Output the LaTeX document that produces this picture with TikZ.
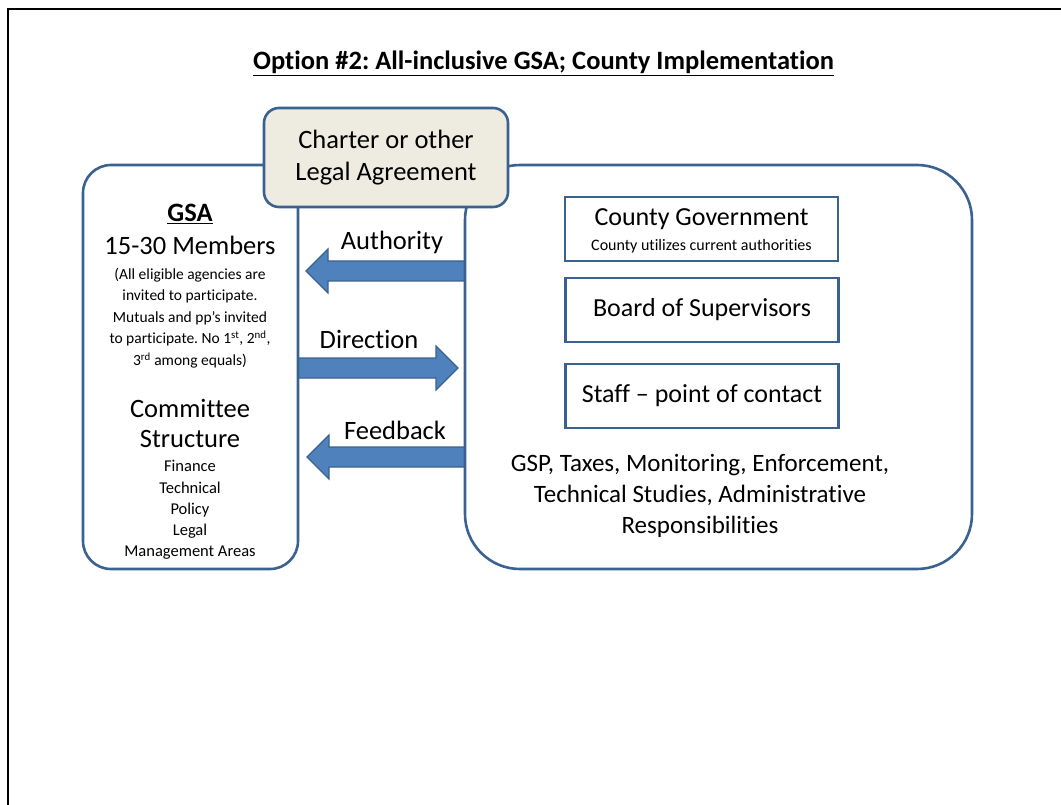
\documentclass[tikz,border=0pt]{standalone}
\usepackage{fontspec}
\setmainfont{Carlito}[Ligatures=NoCommon]
\frenchspacing
\definecolor{edgeblue}{HTML}{3A6291}
\definecolor{arrowfill}{HTML}{4F81BD}
\definecolor{charterfill}{HTML}{EEECE1}
\tikzset{
  panel/.style={draw=edgeblue, line width=2.6pt, inner sep=0pt},
  unitbox/.style={draw=edgeblue, line width=2.6pt, inner sep=0pt, minimum width=273pt, minimum height=64pt,
     font=\fontsize{26}{30}\selectfont},
  blockarrow/.style={draw=edgeblue, fill=arrowfill, line width=1.2pt, line join=miter},
  lbl/.style={inner sep=0pt, align=center},
  big/.style={font=\fontsize{26.5}{30}\selectfont},
}
\begin{document}
\begin{tikzpicture}[x=1pt,y=-1pt]
\useasboundingbox (0,0) rectangle (1061,805);
\draw[line width=2pt] (7.5,805) -- (7.5,9) -- (1061,9);

\node[lbl, font=\fontsize{26.5}{30}\selectfont\bfseries] (title) at (543.5,63) {\underline{Option \#2: All-inclusive GSA; County Implementation}};

% block arrows (drawn under the panel borders)
\draw[blockarrow] (465,261) -- (328,261) -- (328,249) -- (306,271) coordinate (authtip) -- (328,293) -- (328,281) -- (465,281) -- cycle;
\draw[blockarrow] (298,358) -- (436,358) -- (436,346) -- (458,368) coordinate (dirtip) -- (436,390) -- (436,378) -- (298,378) -- cycle;
\draw[blockarrow] (465,447) -- (329,447) -- (329,435) -- (307,457) coordinate (feedtip) -- (329,479) -- (329,467) -- (465,467) -- cycle;

\node[panel, rounded corners=28pt, minimum width=215pt, minimum height=404pt] (gsa) at (190.5,367) {};
\node[panel, rounded corners=55pt, minimum width=507pt, minimum height=404pt] (county) at (718.5,367) {};

\node[lbl, big] (authlbl) at (392,242) {Authority};
\node[lbl, big] (dirlbl) at (369,339) {Direction};
\node[lbl, big] (feedlbl) at (395,430) {Feedback};

\node[panel, fill=charterfill, rounded corners=15pt, minimum width=244pt, minimum height=99pt,
      align=center, font=\fontsize{26.5}{32}\selectfont] (charter) at (386,157.5) {Charter or other\\Legal Agreement};

% GSA panel texts
\node[lbl, font=\fontsize{26.5}{30}\selectfont\bfseries] (gsaname) at (190,214) {\underline{GSA}};
\node[lbl, big] (members) at (190,245) {15-30 Members};
\node[lbl, font=\fontsize{15.5}{21.5}\selectfont] (elig) at (190,318) {(All eligible agencies are\\invited to participate.\\Mutuals and pp’s invited\\to participate. No 1\textsuperscript{st}, 2\textsuperscript{nd},\\3\textsuperscript{rd} among equals)};
\node[lbl, font=\fontsize{26.5}{30}\selectfont] (committee) at (190,423) {Committee\\Structure};
\node[lbl, font=\fontsize{16.5}{21.25}\selectfont] (committees) at (190,510) {Finance\\Technical\\Policy\\Legal\\Management Areas};

% County panel texts
\node[unitbox] (govbox) at (701.5,229) {};
\node[lbl, font=\fontsize{26}{30}\selectfont] (govname) at (701.5,219) {County Government};
\node[lbl, font=\fontsize{16}{18}\selectfont] (govnote) at (701.5,246) {County utilizes current authorities};
\node[unitbox] (board) at (702,310) {Board of Supervisors};
\node[unitbox] (staff) at (702,396) {Staff -- point of contact};
\node[lbl, font=\fontsize{25}{31}\selectfont] (duties) at (700,496) {GSP, Taxes, Monitoring, Enforcement,\\Technical Studies, Administrative\\Responsibilities};
\end{tikzpicture}
\end{document}
